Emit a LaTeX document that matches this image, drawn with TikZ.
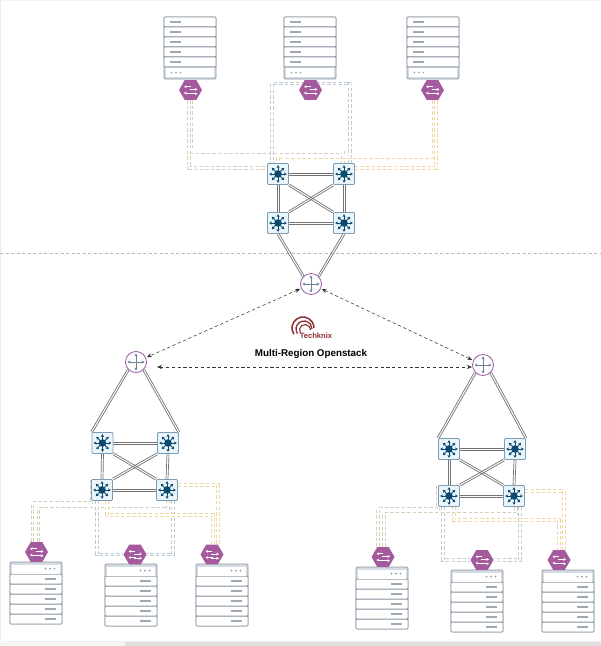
\documentclass[tikz,border=0pt]{standalone}
\usepackage{fontspec}
\setmainfont{Liberation Sans}
\usetikzlibrary{shapes.geometric,arrows.meta,backgrounds,calc}
\definecolor{rackline}{HTML}{8E9AA6}
\definecolor{rackfill}{HTML}{D5DCE3}
\definecolor{navy}{HTML}{0B4A70}
\definecolor{swfill}{HTML}{EAF6FB}
\definecolor{swline}{HTML}{7C9DB5}
\definecolor{hexfill}{HTML}{A45A9C}
\definecolor{routerline}{HTML}{9A5AA6}
\definecolor{routerarrow}{HTML}{6F8199}
\definecolor{tanline}{HTML}{D6CEB6}
\definecolor{blueline}{HTML}{BCCAD6}
\definecolor{yelline}{HTML}{EFD79F}
\definecolor{logored}{HTML}{8E2F35}
\tikzset{
 x=1pt,y=-1pt,
 switchbox/.style={draw=swline,fill=swfill,line width=.8pt,rounded corners=1pt,minimum size=21pt,inner sep=0pt},
 routerbox/.style={circle,draw=routerline,fill=white,line width=.8pt,minimum size=21pt,inner sep=0pt},
 hexbox/.style={regular polygon,regular polygon sides=6,fill=hexfill,minimum size=23pt,inner sep=0pt},
 rackbox/.style={draw=rackline,fill=rackfill,line width=.9pt,rounded corners=1.2pt,minimum width=52pt,minimum height=62pt,inner sep=0pt},
 linkline/.style={draw=black!55,line width=.7pt},
 wire/.style={dash pattern=on 3.4pt off 2.2pt,double=white,double distance=1.5pt,line width=.85pt},
 tanwire/.style={wire,draw=tanline},
 bluewire/.style={wire,draw=blueline},
 yelwire/.style={wire,draw=yelline},
 peer/.style={draw=black!80,dash pattern=on 3.2pt off 2.6pt,line width=.55pt,{Stealth[length=5pt,width=4pt]}-{Stealth[length=5pt,width=4pt]}},
}
\newcommand{\lnk}[2]{%
 \draw[linkline] ($(#1)!1pt!90:(#2)$) -- ($(#2)!1pt!-90:(#1)$);
 \draw[linkline] ($(#1)!1pt!-90:(#2)$) -- ($(#2)!1pt!90:(#1)$);
}
\newcommand{\swnode}[3]{%
 \node[switchbox] (#1) at (#2,#3) {};
 \foreach \a in {0,45,...,315}{\draw[navy,line width=1pt,-{Stealth[length=2.8pt,width=3.2pt]}] (#1.center) -- ++(\a:8.8pt);}
 \fill[navy] (#1.center) circle (3.8pt);
}
\newcommand{\rtnode}[3]{%
 \node[routerbox] (#1) at (#2,#3) {};
 \foreach \a in {0,90,180,270}{\draw[routerarrow,line width=.9pt,-{Stealth[length=3pt,width=3.2pt]}] (#1.center) -- ++(\a:8.6pt);}
}
\newcommand{\hexnode}[3]{%
 \node[hexbox] (#1) at (#2,#3) {};
 \draw[white,line width=.8pt,-{Stealth[length=2.6pt,width=2.8pt]}] ($(#1.center)+(0pt,3.2pt)$) -- ++(-6.5pt,0pt);
 \draw[white,line width=.8pt,-{Stealth[length=2.6pt,width=2.8pt]}] ($(#1.center)+(-1pt,0.6pt)$) -- ++(8pt,0pt);
 \draw[white,line width=.8pt,-{Stealth[length=2.6pt,width=2.8pt]}] ($(#1.center)+(1pt,-3pt)$) -- ++(-7.5pt,0pt);
 \draw[white,line width=.8pt,-{Stealth[length=2.6pt,width=2.8pt]}] ($(#1.center)+(-1pt,-3.8pt)$) -- ++(8pt,0pt);
}
% #1 name, #2 x centre, #3 y centre, #4 = 1 dots at bottom (top rack), -1 dots at top
\newcommand{\racknode}[4]{%
 \node[rackbox] (#1) at (#2,#3) {};
 \foreach \k in {0,1,2,3,4}{%
  \draw[rackline,line width=.9pt,fill=white,rounded corners=1pt] ($(#1.center)+(-26pt,{#4*(31pt-10*\k*1pt)})$) rectangle ++(52pt,{-#4*9.9pt});
  \draw[rackline!85,line width=1.6pt] ($(#1.center)+({#4*(-20pt)},{#4*(26pt-10*\k*1pt)})$) -- ++({#4*11pt},0pt);
 }
 \fill[white] ($(#1.center)+(-24pt,{#4*(-19.5pt)})$) rectangle ($(#1.center)+(24pt,{#4*(-28.5pt)})$);
 \foreach \k in {0,1,2}{\fill[rackline] ($(#1.center)+({#4*(-18.5pt+\k*4.5pt)},{#4*(-24.4pt)})$) circle (.9pt);}
}
\begin{document}
\begin{tikzpicture}
\useasboundingbox (0,0) rectangle (601,646);
% racks
\racknode{ra}{190}{48}{1}
\racknode{rb}{310}{48}{1}
\racknode{rc}{433}{48}{1}
\racknode{la}{36}{593}{-1}
\racknode{lb}{131}{595}{-1}
\racknode{lc}{222}{595}{-1}
\racknode{ga}{382}{598}{-1}
\racknode{gb}{477}{601}{-1}
\racknode{gc}{568}{601}{-1}
% hexes
\hexnode{ha}{190.5}{90}
\hexnode{hb}{310.5}{90}
\hexnode{hc}{432.5}{90}
\hexnode{hla}{36.5}{552}
\hexnode{hlb}{135}{554.5}
\hexnode{hlc}{212}{554.5}
\hexnode{hga}{383}{557}
\hexnode{hgb}{482}{560}
\hexnode{hgc}{559}{560}
% switches
\swnode{t1}{278}{174}
\swnode{t2}{344}{174}
\swnode{t3}{278}{223}
\swnode{t4}{344}{223}
\swnode{l1}{102.5}{443}
\swnode{l2}{168}{443}
\swnode{l3}{102}{490}
\swnode{l4}{167}{490}
\swnode{g1}{449}{449}
\swnode{g2}{515}{449}
\swnode{g3}{449}{496}
\swnode{g4}{514}{496}
% routers
\rtnode{rt}{311}{284}
\rtnode{rl}{136}{362}
\rtnode{rg}{483}{365}
% free ends of the peer arrows
\coordinate (hl) at (157,367);
\coordinate (hr) at (472,367);
\begin{scope}[on background layer]
\fill[white] (0,0) rectangle (601,646);
\fill[black!4] (0,0) rectangle (601,1);
\fill[black!8] (0,0) rectangle (1,641);
\fill[black!4] (0,641) rectangle (601,646);
\fill[black!13] (125,642) rectangle (601,646);
\coordinate (sepa) at (0,253.5);
\coordinate (sepb) at (601,253.5);
\draw[black!28,dash pattern=on 3pt off 2.5pt,line width=.7pt] (sepa) -- (sepb);
% top cluster
\lnk{t1.east}{t2.west}
\lnk{t3.east}{t4.west}
\lnk{t1.south}{t3.north}
\lnk{t2.south}{t4.north}
\lnk{t1.south east}{t4.north west}
\lnk{t2.south west}{t3.north east}
\lnk{t3.south}{rt.north west}
\lnk{t4.south}{rt.north east}
% left cluster
\lnk{l1.east}{l2.west}
\lnk{l3.east}{l4.west}
\lnk{l1.south}{l3.north}
\lnk{l2.south}{l4.north}
\lnk{l1.south east}{l4.north west}
\lnk{l2.south west}{l3.north east}
\lnk{l1.north west}{rl.south west}
\lnk{l2.north east}{rl.south east}
% right cluster
\lnk{g1.east}{g2.west}
\lnk{g3.east}{g4.west}
\lnk{g1.south}{g3.north}
\lnk{g2.south}{g4.north}
\lnk{g1.south east}{g4.north west}
\lnk{g2.south west}{g3.north east}
\lnk{g1.north west}{rg.south west}
\lnk{g2.north east}{rg.south east}
% top wires
\draw[tanwire] ([xshift=-1.5pt]ha.south) |- ([yshift=6pt]t1.west);
\draw[tanwire] ([xshift=1pt]ha.south) -- ++(0,52) -| ([xshift=-1pt]t2.north);
\draw[bluewire] ([yshift=-3.5pt]hb.north) -- ++(-38,0) -| ([xshift=-6pt]t1.north);
\draw[bluewire] ([yshift=-3.5pt]hb.north) -- ++(40,0) -| ([xshift=6pt]t2.north);
\draw[yelwire] ([xshift=1pt]hc.south) -- ++(0,57) -| (t1.north);
\draw[yelwire] ([xshift=3.5pt]hc.south) |- ([yshift=6pt]t2.east);
% left wires
\draw[tanwire] ([xshift=-4pt]hla.north) -- ++(0,-39) -| ([xshift=-10.5pt,yshift=1pt]l3.north);
\draw[tanwire] ([xshift=2pt]hla.north) -- ++(0,-33) -| ([xshift=1pt]l4.south);
\draw[bluewire] ([xshift=-5pt]l3.south) |- (hlb.west);
\draw[bluewire] ([xshift=6pt]l4.south) |- (hlb.east);
\draw[yelwire] ([xshift=5pt]l3.south) -- ++(0,14) -| ([xshift=1pt]hlc.north);
\draw[yelwire] ([yshift=5pt]l4.east) -| ([xshift=6pt]hlc.north);
% right wires
\draw[tanwire] ([xshift=-5pt]hga.north) -- ++(0,-38) -| ([xshift=-11pt,yshift=1pt]g3.north);
\draw[tanwire] ([xshift=1pt]hga.north) -- ++(0,-33) -| ([xshift=2pt]g4.south);
\draw[bluewire] ([xshift=-6pt]g3.south) |- (hgb.west);
\draw[bluewire] ([xshift=6pt]g4.south) |- (hgb.east);
\draw[yelwire] ([xshift=5pt]g3.south) -- ++(0,13) -| ([xshift=0pt]hgc.north);
\draw[yelwire] ([yshift=5pt]g4.east) -| ([xshift=5pt]hgc.north);
\end{scope}
% peer arrows
\draw[peer,shorten <=1pt,shorten >=1pt] (rt) -- (rl);
\draw[peer,shorten <=1pt,shorten >=1pt] (rt) -- (rg);
\draw[peer] (hl) -- (hr);
% logo
\node[logored,font=\bfseries\fontsize{7.6}{8}\selectfont,inner sep=0pt] (logotext) at (316,336) {Techknix};
\foreach \cx/\cy/\r/\w in {303/328/11/1.5,304/329/8/1.3,305/330/5.5/1.1}{\draw[logored,line width=\w pt] (\cx,\cy) ++(215:\r pt) arc[start angle=215,end angle=0,radius=\r pt];}
\node[font=\bfseries\fontsize{9.8}{11}\selectfont,inner sep=0pt] (title) at (311,353.5) {Multi-Region Openstack};
\end{tikzpicture}
\end{document}
